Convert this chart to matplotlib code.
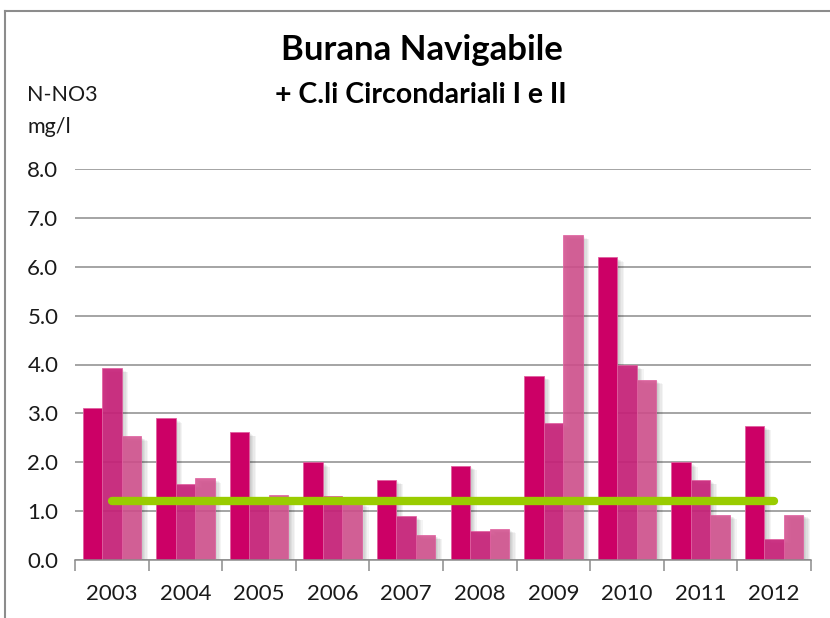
import matplotlib.pyplot as plt
from matplotlib.lines import Line2D
import numpy as np

plt.rcParams['font.family'] = ['Lato', 'DejaVu Sans']

anni = ['2003', '2004', '2005', '2006', '2007', '2008', '2009', '2010', '2011', '2012']
serie1 = [3.11, 2.90, 2.62, 2.00, 1.64, 1.93, 3.77, 6.19, 2.00, 2.74]
serie2 = [3.93, 1.56, 1.20, 1.30, 0.90, 0.59, 2.80, 3.99, 1.64, 0.43]
serie3 = [2.53, 1.67, 1.33, 1.18, 0.51, 0.64, 6.65, 3.69, 0.93, 0.93]
limite = [1.2] * len(anni)

fig = plt.figure(figsize=(8.3, 6.18), dpi=100)
ax = fig.add_axes([75/830, 58/618, 736/830, 391/618])

x = np.arange(len(anni))
w = 0.265
colori = ['#cc0066', '#c8237a', '#d2508e']
alpha = [1.0, 0.92, 0.88]

# ombre morbide a destra delle barre
for serie, off in zip([serie1, serie2, serie3], [-w, 0, w]):
    for k in range(5):
        ax.bar(x + off + 0.02 + k*0.018, np.array(serie) - 0.03 - k*0.015, w,
               color='black', alpha=0.045, lw=0, zorder=1)

for serie, off, c, a in zip([serie1, serie2, serie3], [-w, 0, w], colori, alpha):
    ax.bar(x + off, serie, w, color=c, alpha=a, edgecolor='#e060a0', lw=0.6, zorder=2)

ax.plot(x, limite, color='#99cc00', lw=6, solid_capstyle='round', zorder=4)

ax.set_xlim(-0.5, 9.5)
ax.set_ylim(0, 8)
ax.set_yticks(np.arange(0, 8.1, 1.0))
ax.set_yticklabels(['%.1f' % v for v in np.arange(0, 8.1, 1.0)])
ax.yaxis.grid(True, color='#8c8c8c', lw=1.1, zorder=0)
ax.set_axisbelow(True)
ax.set_xticks(x)
ax.set_xticklabels(anni)
ax.set_xticks(np.arange(-0.5, 10, 1.0), minor=True)
ax.tick_params(axis='x', which='major', length=0, pad=17, labelsize=16, colors='#1a1a1a')
ax.tick_params(axis='x', which='minor', length=8, color='#8c8c8c', width=1.1)
ax.tick_params(axis='y', length=0, pad=12, labelsize=16, colors='#1a1a1a')
for s in ['left', 'right', 'top']:
    ax.spines[s].set_visible(False)
ax.spines['bottom'].set_color('#8c8c8c')
ax.spines['bottom'].set_linewidth(1.1)

fig.text(422/830, 1 - 50/618, 'Burana Navigabile', ha='center', va='center',
         fontsize=25, fontweight='bold', color='black')
fig.text(421/830, 1 - 95/618, '+ C.li Circondariali I e II', ha='center', va='center',
         fontsize=20.5, fontweight='bold', color='black')
fig.text(27/830, 1 - 95/618, 'N-NO3', ha='left', va='center', fontsize=15.5, color='#1a1a1a')
fig.text(27/830, 1 - 127/618, 'mg/l', ha='left', va='center', fontsize=15.5, color='#1a1a1a')

# cornice del grafico
fig.add_artist(Line2D([5/830, 5/830], [0, 1 - 11/618], color='#8c8c8c', lw=1.5))
fig.add_artist(Line2D([5/830, 1], [1 - 11/618, 1 - 11/618], color='#8c8c8c', lw=1.5))

fig.savefig('out.png', dpi=100)
